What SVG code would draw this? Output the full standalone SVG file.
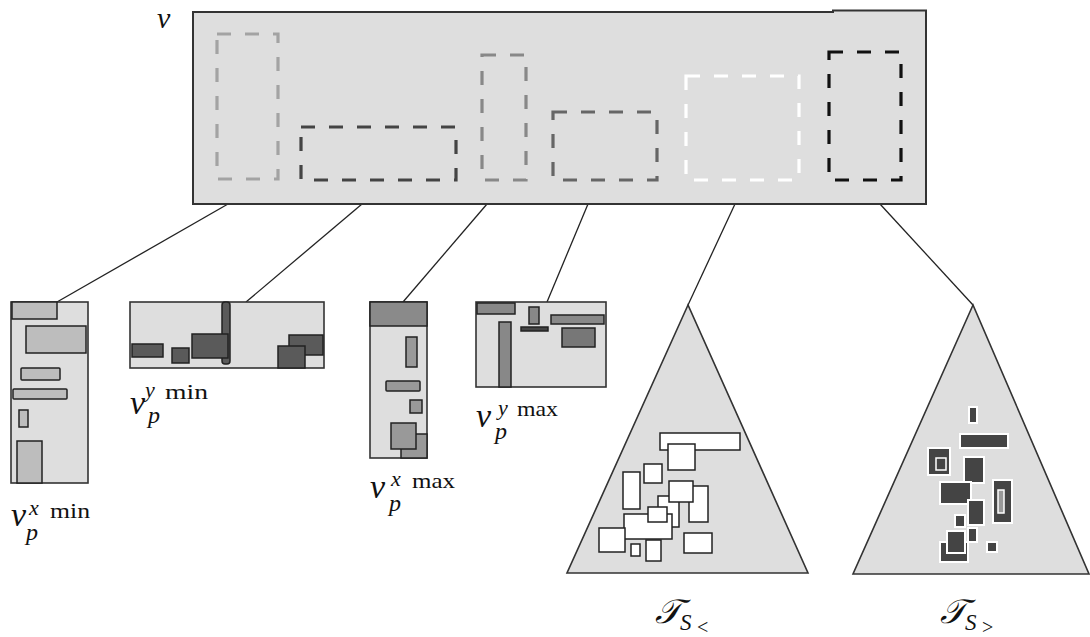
<svg xmlns="http://www.w3.org/2000/svg" width="1090" height="637" viewBox="0 0 1090 637">
<style>
.box{fill:#dedede;stroke:#333;stroke-width:2}
.cbox{fill:#dedede;stroke:#333;stroke-width:1.6}
.dash{fill:none;stroke-width:3.2;stroke-dasharray:14 14}
.in{stroke:#222;stroke-width:1.5}
.wr{fill:#fff;stroke:#222;stroke-width:1.5}
.dr{fill:#444;stroke:#fff;stroke-width:2}
.conn line{stroke:#222;stroke-width:1.3}
.tri{fill:#dedede;stroke:#333;stroke-width:1.6}
text{font-family:"Liberation Serif","DejaVu Serif",serif;fill:#111}
.it{font-style:italic}
.nu{font-style:italic;font-size:34px}
.sup{font-style:italic;font-size:22px}
.op{font-style:normal;font-size:21px}
.sub{font-style:italic;font-size:24px}
</style>
<g id="connectors" class="conn">
<line x1="228" y1="204" x2="57" y2="302"/>
<line x1="362" y1="204" x2="246" y2="302"/>
<line x1="487" y1="204" x2="403" y2="302"/>
<line x1="588" y1="204" x2="547" y2="302"/>
<line x1="735" y1="204" x2="688" y2="305"/>
<line x1="880" y1="204" x2="973" y2="305"/>
</g>
<g id="nu">
<path class="box" d="M193,12 H833 V10.5 H926 V204 H193 Z"/>
<rect class="dash" stroke="#a3a3a3" x="217" y="34" width="61" height="145"/>
<rect class="dash" stroke="#444" x="301" y="127" width="155" height="53"/>
<rect class="dash" stroke="#888" x="482" y="55" width="44" height="125"/>
<rect class="dash" stroke="#666" x="553" y="112" width="104" height="68"/>
<rect class="dash" stroke="#fff" x="686" y="76" width="113" height="104"/>
<rect class="dash" stroke="#111" x="829" y="52" width="72" height="128"/>
<text class="it" x="157" y="28" font-size="30">ν</text>
</g>
<g id="nu-xmin">
<rect class="cbox" x="11" y="302" width="77" height="181"/>
<g class="in" fill="#bdbdbd">
<rect x="12" y="302" width="45" height="17"/>
<rect x="26" y="326" width="60" height="27"/>
<rect x="21" y="368" width="39" height="12" rx="1"/>
<rect x="13" y="389" width="54" height="10" rx="1"/>
<rect x="19" y="410" width="9" height="17"/>
<rect x="17" y="441" width="25" height="42"/>
</g>
<text><tspan class="nu" x="11" y="526">ν</tspan><tspan class="sup" x="29" y="515">x</tspan><tspan class="op" x="50" y="518" textLength="40" lengthAdjust="spacingAndGlyphs">min</tspan><tspan class="sub" x="26" y="540">p</tspan></text>
</g>
<g id="nu-ymin">
<rect class="cbox" x="130" y="302" width="194" height="66"/>
<g class="in" fill="#5a5a5a">
<rect x="222" y="302" width="8" height="62" rx="3"/>
<rect x="132" y="344" width="31" height="13"/>
<rect x="172" y="348" width="17" height="15"/>
<rect x="192" y="334" width="36" height="24"/>
<rect x="289" y="335" width="34" height="20"/>
<rect x="278" y="346" width="27" height="22"/>
</g>
<text><tspan class="nu" x="130" y="414">ν</tspan><tspan class="sup" x="145" y="397">y</tspan><tspan class="op" x="165" y="399" textLength="43" lengthAdjust="spacingAndGlyphs">min</tspan><tspan class="sub" x="148" y="423">p</tspan></text>
</g>
<g id="nu-xmax">
<rect class="cbox" x="370" y="302" width="57" height="156"/>
<g class="in" fill="#999">
<rect x="370" y="302" width="57" height="24" fill="#8a8a8a"/>
<rect x="406" y="337" width="11" height="30"/>
<rect x="386" y="381" width="34" height="10" rx="1"/>
<rect x="410" y="400" width="12" height="13"/>
<rect x="401" y="434" width="26" height="24"/>
<rect x="391" y="423" width="25" height="26"/>
</g>
<text><tspan class="nu" x="370" y="498">ν</tspan><tspan class="sup" x="391" y="486">x</tspan><tspan class="op" x="412" y="488" textLength="43" lengthAdjust="spacingAndGlyphs">max</tspan><tspan class="sub" x="389" y="511">p</tspan></text>
</g>
<g id="nu-ymax">
<rect class="cbox" x="476" y="302" width="130" height="85"/>
<g class="in" fill="#888">
<rect x="477" y="303" width="38" height="11"/>
<rect x="499" y="322" width="12" height="65"/>
<rect x="529" y="307" width="10" height="17"/>
<rect x="521" y="327" width="27" height="4" fill="#444"/>
<rect x="551" y="315" width="53" height="9"/>
<rect x="562" y="328" width="33" height="19" fill="#777"/>
</g>
<text><tspan class="nu" x="476" y="427">ν</tspan><tspan class="sup" x="498" y="415">y</tspan><tspan class="op" x="517" y="416" textLength="41" lengthAdjust="spacingAndGlyphs">max</tspan><tspan class="sub" x="495" y="439">p</tspan></text>
</g>
<g id="T-less">
<polygon class="tri" points="688,305 567,573 808,573"/>
<rect class="wr" x="660" y="433" width="80" height="17"/>
<rect class="wr" x="668" y="444" width="27" height="26"/>
<rect class="wr" x="644" y="464" width="18" height="19"/>
<rect class="wr" x="623" y="472" width="17" height="37"/>
<rect class="wr" x="689" y="486" width="19" height="36"/>
<rect class="wr" x="658" y="496" width="21" height="31"/>
<rect class="wr" x="669" y="481" width="24" height="21"/>
<rect class="wr" x="624" y="514" width="48" height="25"/>
<rect class="wr" x="648" y="507" width="19" height="15"/>
<rect class="wr" x="599" y="528" width="26" height="24"/>
<rect class="wr" x="631" y="544" width="9" height="12"/>
<rect class="wr" x="646" y="540" width="15" height="21"/>
<rect class="wr" x="684" y="533" width="28" height="20"/>
<text><tspan class="it" x="655" y="623" font-size="34">𝒯</tspan><tspan class="it" x="680" y="630" font-size="23">S</tspan><tspan x="697" y="634" font-size="20">&lt;</tspan></text>
</g>
<g id="T-greater">
<polygon class="tri" points="973,305 853,574 1089,574"/>
<rect class="dr" x="969" y="407" width="8" height="16"/>
<rect class="dr" x="960" y="434" width="48" height="14"/>
<rect class="dr" x="928" y="448" width="22" height="27"/>
<rect x="936" y="458" width="10" height="12" fill="#444" stroke="#fff" stroke-width="1.5"/>
<rect class="dr" x="964" y="457" width="20" height="26"/>
<rect class="dr" x="940" y="482" width="31" height="22"/>
<rect class="dr" x="993" y="480" width="19" height="43"/>
<rect x="998" y="490" width="6" height="23" fill="#999" stroke="#fff" stroke-width="1.5"/>
<rect class="dr" x="968" y="500" width="16" height="25"/>
<rect class="dr" x="955" y="515" width="10" height="12"/>
<rect class="dr" x="968" y="528" width="9" height="14"/>
<rect class="dr" x="940" y="542" width="28" height="20"/>
<rect class="dr" x="947" y="531" width="18" height="22"/>
<rect class="dr" x="987" y="542" width="10" height="10"/>
<text><tspan class="it" x="940" y="623" font-size="34">𝒯</tspan><tspan class="it" x="965" y="630" font-size="23">S</tspan><tspan x="982" y="634" font-size="20">&gt;</tspan></text>
</g>
</svg>
